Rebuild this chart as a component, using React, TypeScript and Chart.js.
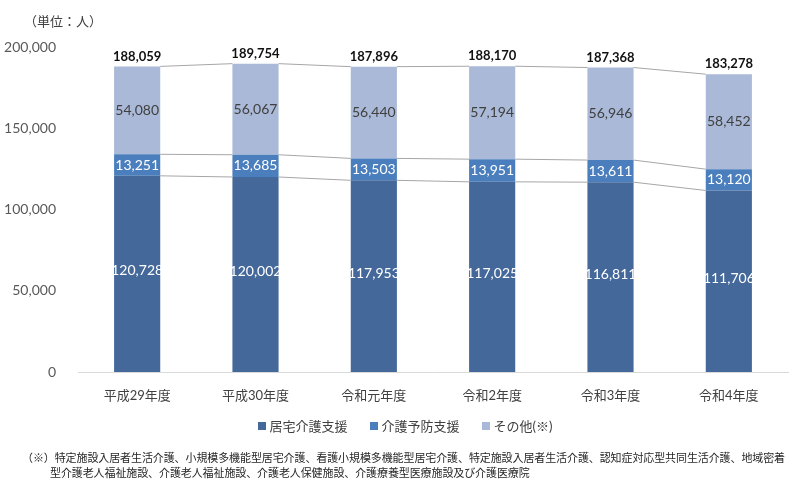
import React, { useEffect, useRef } from "react";
import { Chart, registerables } from "chart.js";

Chart.register(...registerables);

const categories = ["平成29年度", "平成30年度", "令和元年度", "令和2年度", "令和3年度", "令和4年度"];
const kyotaku = [120728, 120002, 117953, 117025, 116811, 111706];
const yobou = [13251, 13685, 13503, 13951, 13611, 13120];
const sonota = [54080, 56067, 56440, 57194, 56946, 58452];
const totals = [188059, 189754, 187896, 188170, 187368, 183278];
const seriesNames = ["居宅介護支援", "介護予防支援", "その他(※)"];
const seriesColors = ["#44689a", "#4a7ebd", "#a9b9d7"];
const labelColors = ["#ffffff", "#ffffff", "#404040"];
const yTicks = [0, 50000, 100000, 150000, 200000];

const FONT = "Lato, 'Noto Sans CJK JP', sans-serif";
const fmt = (v: number) => v.toLocaleString("en-US");

const overlayPlugin = {
  id: "overlay",
  afterDatasetsDraw(chart: any) {
    const ctx = chart.ctx;
    const n = chart.data.labels.length;
    ctx.save();
    // series lines
    ctx.strokeStyle = "#a6a6a6";
    ctx.lineWidth = 1;
    chart.data.datasets.forEach((_: any, d: number) => {
      const meta = chart.getDatasetMeta(d);
      for (let i = 0; i < n - 1; i++) {
        const a = meta.data[i] as any;
        const b = meta.data[i + 1] as any;
        ctx.beginPath();
        ctx.moveTo(a.x + a.width / 2, a.y);
        ctx.lineTo(b.x - b.width / 2, b.y);
        ctx.stroke();
      }
    });
    // segment labels
    ctx.textAlign = "center";
    ctx.textBaseline = "middle";
    ctx.font = `14px ${FONT}`;
    chart.data.datasets.forEach((ds: any, d: number) => {
      const meta = chart.getDatasetMeta(d);
      meta.data.forEach((el: any, i: number) => {
        ctx.fillStyle = labelColors[d];
        const dy = d === 0 ? -3 : 0;
        ctx.fillText(fmt(ds.data[i]), el.x, (el.y + el.base) / 2 + dy);
      });
    });
    // totals
    const top = chart.getDatasetMeta(chart.data.datasets.length - 1);
    ctx.font = `bold 13px ${FONT}`;
    ctx.fillStyle = "#111111";
    top.data.forEach((el: any, i: number) => {
      ctx.fillText(fmt(totals[i]), el.x, el.y - 10);
    });
    ctx.restore();
  },
};

export default function App() {
  const ref = useRef<HTMLCanvasElement>(null);
  useEffect(() => {
    const datas = [kyotaku, yobou, sonota];
    const chart = new Chart(ref.current as HTMLCanvasElement, {
      type: "bar",
      data: {
        labels: categories,
        datasets: datas.map((data, i) => ({
          label: seriesNames[i],
          data,
          backgroundColor: seriesColors[i],
          borderWidth: 0,
          barPercentage: 0.39,
          categoryPercentage: 1,
        })),
      },
      options: {
        responsive: false,
        animation: false,
        events: [],
        layout: { padding: { left: 0, right: 12, top: 47, bottom: 83 } },
        plugins: { legend: { display: false }, tooltip: { enabled: false } },
        scales: {
          x: {
            stacked: true,
            grid: { display: false },
            border: { color: "#d9d9d9", width: 1 },
            ticks: { color: "#404040", font: { family: FONT, size: 13 }, padding: 8 },
            afterFit: (s: any) => { s.height = 30; },
          },
          y: {
            stacked: true,
            min: 0,
            max: 200000,
            afterBuildTicks: (s: any) => { s.ticks = yTicks.map((v) => ({ value: v })); },
            grid: { display: false },
            border: { display: false },
            ticks: {
              color: "#595959",
              font: { family: FONT, size: 14 },
              padding: 14,
              callback: (v: any) => fmt(Number(v)),
            },
            afterFit: (s: any) => { s.width = 78; },
          },
        },
      },
      plugins: [overlayPlugin],
    });
    return () => chart.destroy();
  }, []);

  const legendItem = (i: number) => (
    <span key={i} style={{ display: "inline-flex", alignItems: "center", marginRight: i < 2 ? 22 : 0 }}>
      <span style={{ width: 8, height: 8, background: seriesColors[i], display: "inline-block", marginRight: 4 }} />
      <span>{seriesNames[i]}</span>
    </span>
  );

  return (
    <div style={{ position: "fixed", left: 0, top: 0, width: 800, height: 485, background: "#fff", fontFamily: FONT }}>
      <canvas ref={ref} width={800} height={485} style={{ position: "absolute", left: 0, top: 0 }} />
      <div style={{ position: "absolute", left: 24, top: 11, fontSize: 13, color: "#404040" }}>（単位：人）</div>
      <div style={{ position: "absolute", left: 0, width: 800, top: 416, textAlign: "center", fontSize: 13, color: "#404040", paddingLeft: 10, boxSizing: "border-box" }}>
        {[0, 1, 2].map(legendItem)}
      </div>
      <div style={{ position: "absolute", left: 22, top: 450, fontSize: 11, lineHeight: "15px", color: "#262626", whiteSpace: "nowrap", letterSpacing: "-0.1px" }}>
        <div>（※）特定施設入居者生活介護、小規模多機能型居宅介護、看護小規模多機能型居宅介護、特定施設入居者生活介護、認知症対応型共同生活介護、地域密着</div>
        <div style={{ paddingLeft: 28 }}>型介護老人福祉施設、介護老人福祉施設、介護老人保健施設、介護療養型医療施設及び介護医療院</div>
      </div>
    </div>
  );
}
